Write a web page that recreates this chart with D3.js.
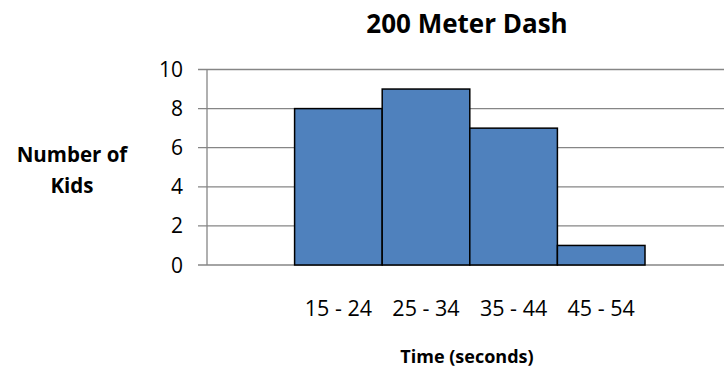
<!DOCTYPE html>
<html><head><meta charset="utf-8">
<script src="https://cdn.jsdelivr.net/npm/d3@7"></script>
<style>body{margin:0;background:#fff}svg{display:block}text{font-family:"Open Sans",sans-serif}</style>
</head><body><svg id="c" width="724" height="372"></svg>
<script>
const categories = ["", "15 - 24", "25 - 34", "35 - 44", "45 - 54", ""];
const counts = [null, 8, 9, 7, 1, null];
const yTicks = [0, 2, 4, 6, 8, 10];

const svg = d3.select("#c");
const pLeft = 207, pRight = 732.6, pTop = 69.5, pBottom = 265;

const x = d3.scaleBand().domain(d3.range(categories.length)).range([pLeft, pRight]).padding(0);
const y = d3.scaleLinear().domain([0, 10]).range([pBottom, pTop]);

// gridlines
svg.append("g").selectAll("line").data(yTicks).join("line")
  .attr("x1", pLeft - 9).attr("x2", pRight)
  .attr("y1", d => y(d)).attr("y2", d => y(d))
  .attr("stroke", "#868686").attr("stroke-width", 1.3);

// y axis line
svg.append("line").attr("x1", pLeft).attr("x2", pLeft).attr("y1", pTop).attr("y2", pBottom)
  .attr("stroke", "#868686").attr("stroke-width", 1.3);

// y tick labels
svg.append("g").selectAll("text").data(yTicks).join("text")
  .attr("x", 183).attr("y", d => y(d)).attr("dy", "0.36em")
  .attr("text-anchor", "end").attr("font-size", 21).attr("fill", "#000")
  .text(d => d);

// bars
const data = counts.map((v, i) => ({i, v})).filter(d => d.v != null);
svg.append("g").selectAll("rect").data(data).join("rect")
  .attr("x", d => x(d.i)).attr("width", x.bandwidth())
  .attr("y", d => y(d.v)).attr("height", d => y(0) - y(d.v))
  .attr("fill", "#4F81BD").attr("stroke", "#000").attr("stroke-width", 1.5);

// x labels
svg.append("g").selectAll("text").data(categories.map((c, i) => ({c, i})).filter(d => d.c))
  .join("text")
  .attr("x", d => x(d.i) + x.bandwidth() / 2).attr("y", 316)
  .attr("text-anchor", "middle").attr("font-size", 21.5).attr("fill", "#000")
  .text(d => d.c);

// titles
svg.append("text").attr("x", 467).attr("y", 33).attr("text-anchor", "middle")
  .attr("font-size", 26).attr("font-weight", "bold").text("200 Meter Dash");
svg.append("text").attr("x", 467).attr("y", 363).attr("text-anchor", "middle")
  .attr("font-size", 18).attr("font-weight", "bold").text("Time (seconds)");
const yt = svg.append("text").attr("text-anchor", "middle").attr("font-size", 20.5).attr("font-weight", "bold");
yt.append("tspan").attr("x", 72).attr("y", 161.5).text("Number of");
yt.append("tspan").attr("x", 72).attr("y", 192.5).text("Kids");
</script></body></html>
